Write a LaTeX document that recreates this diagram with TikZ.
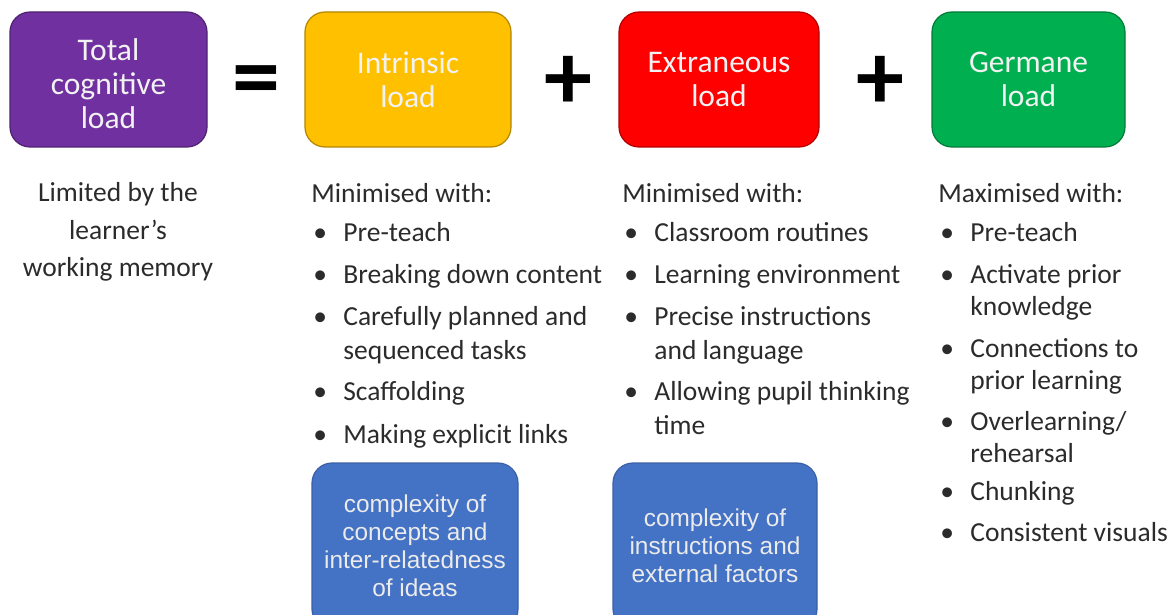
\documentclass[tikz,border=0pt]{standalone}
\usepackage{fontspec}
\setmainfont{Carlito}
\newfontfamily\arialfont{Liberation Sans}
\definecolor{cpurple}{HTML}{7030A0}
\definecolor{cyellow}{HTML}{FFC000}
\definecolor{cred}{HTML}{FF0000}
\definecolor{cgreen}{HTML}{00B050}
\definecolor{cblue}{HTML}{4472C4}
\definecolor{ctext}{HTML}{2B2B2B}
\newcommand{\blt}{\makebox[16pt][l]{\hspace{1pt}\textbullet}}
\begin{document}
\begin{tikzpicture}[x=0.5pt,y=-0.5pt, line join=round, line cap=round,
	loadbox/.style={draw=#1!70!black, line width=0.6pt, fill=#1, rounded corners=10pt, inner sep=0pt,
		minimum height=67.5pt, text=white!95!black, align=center, font=\fontsize{15.75}{17}\selectfont},
	factorbox/.style={draw=cblue!85!black, line width=0.6pt, fill=cblue, rounded corners=10pt, inner sep=0pt,
		minimum height=83pt, text=white!92!black, align=center, font=\arialfont\fontsize{12.2}{14}\selectfont},
	sign/.style={inner sep=0pt, font=\fontsize{48}{48}\selectfont\bfseries},
	listtext/.style={anchor=base west, inner sep=0pt, text=ctext, font=\fontsize{13.75}{17}\selectfont}]
	\useasboundingbox (0,0) rectangle (1175,615);
	\clip (0,0) rectangle (1175,615);
	
	% top row
	\node[loadbox=cpurple, minimum width=98.5pt] (total) at (108.5,79.5)
		{\raisebox{-7.5pt}[0pt][0pt]{\begin{tabular}{@{}c@{}}Total\\cognitive\\load\end{tabular}}};
	\node[loadbox=cyellow, minimum width=103pt] (intrinsic) at (408,79.5) {Intrinsic\\load};
	\node[loadbox=cred, minimum width=100pt] (extraneous) at (719,79.5) {Extraneous\\load};
	\node[loadbox=cgreen, minimum width=96.5pt] (germane) at (1028.5,79.5) {Germane\\load};
	\node[sign] (eq) at (256,87) {=};
	\node[sign] (plusA) at (568,83) {+};
	\node[sign] (plusB) at (880,83) {+};
	
	% lists
	\node[listtext, anchor=base] (limit) at (118,202) {\fontsize{13.75}{18.75}\selectfont
		\begin{tabular}[t]{@{}c@{}}Limited by the\\learner’s\\working memory\end{tabular}};
	\node[listtext] (intrList) at (311,202.5) {\begin{tabular}[t]{@{}l@{}l@{}}
		\multicolumn{2}{@{}l@{}}{Minimised with:}\\[2.5pt]
		\blt & Pre-teach\\[4pt]
		\blt & Breaking down content\\[4pt]
		\blt & Carefully planned and\\
		     & sequenced tasks\\[3.5pt]
		\blt & Scaffolding\\[4.5pt]
		\blt & Making explicit links
		\end{tabular}};
	\node[listtext] (extrList) at (622,202.5) {\begin{tabular}[t]{@{}l@{}l@{}}
		\multicolumn{2}{@{}l@{}}{Minimised with:}\\[2.5pt]
		\blt & Classroom routines\\[4pt]
		\blt & Learning environment\\[4pt]
		\blt & Precise instructions\\
		     & and language\\[3.5pt]
		\blt & Allowing pupil thinking\\
		     & time
		\end{tabular}};
	\node[listtext, font=\fontsize{13.75}{16}\selectfont] (germList) at (938,202.5) {\begin{tabular}[t]{@{}l@{}l@{}}
		\multicolumn{2}{@{}l@{}}{Maximised with:}\\[3.5pt]
		\blt & Pre-teach\\[5pt]
		\blt & Activate prior\\
		     & knowledge\\[5pt]
		\blt & Connections to\\
		     & prior learning\\[4.5pt]
		\blt & Overlearning/\\
		     & rehearsal\\[3pt]
		\blt & Chunking\\[4.5pt]
		\blt & Consistent visuals
		\end{tabular}};
	
	% bottom boxes
	\node[factorbox, minimum width=103pt] (intrFactor) at (415,546) {complexity of\\concepts and\\inter-relatedness\\of ideas};
	\node[factorbox, minimum width=102pt] (extrFactor) at (715,546) {complexity of\\instructions and\\external factors};
\end{tikzpicture}
\end{document}
